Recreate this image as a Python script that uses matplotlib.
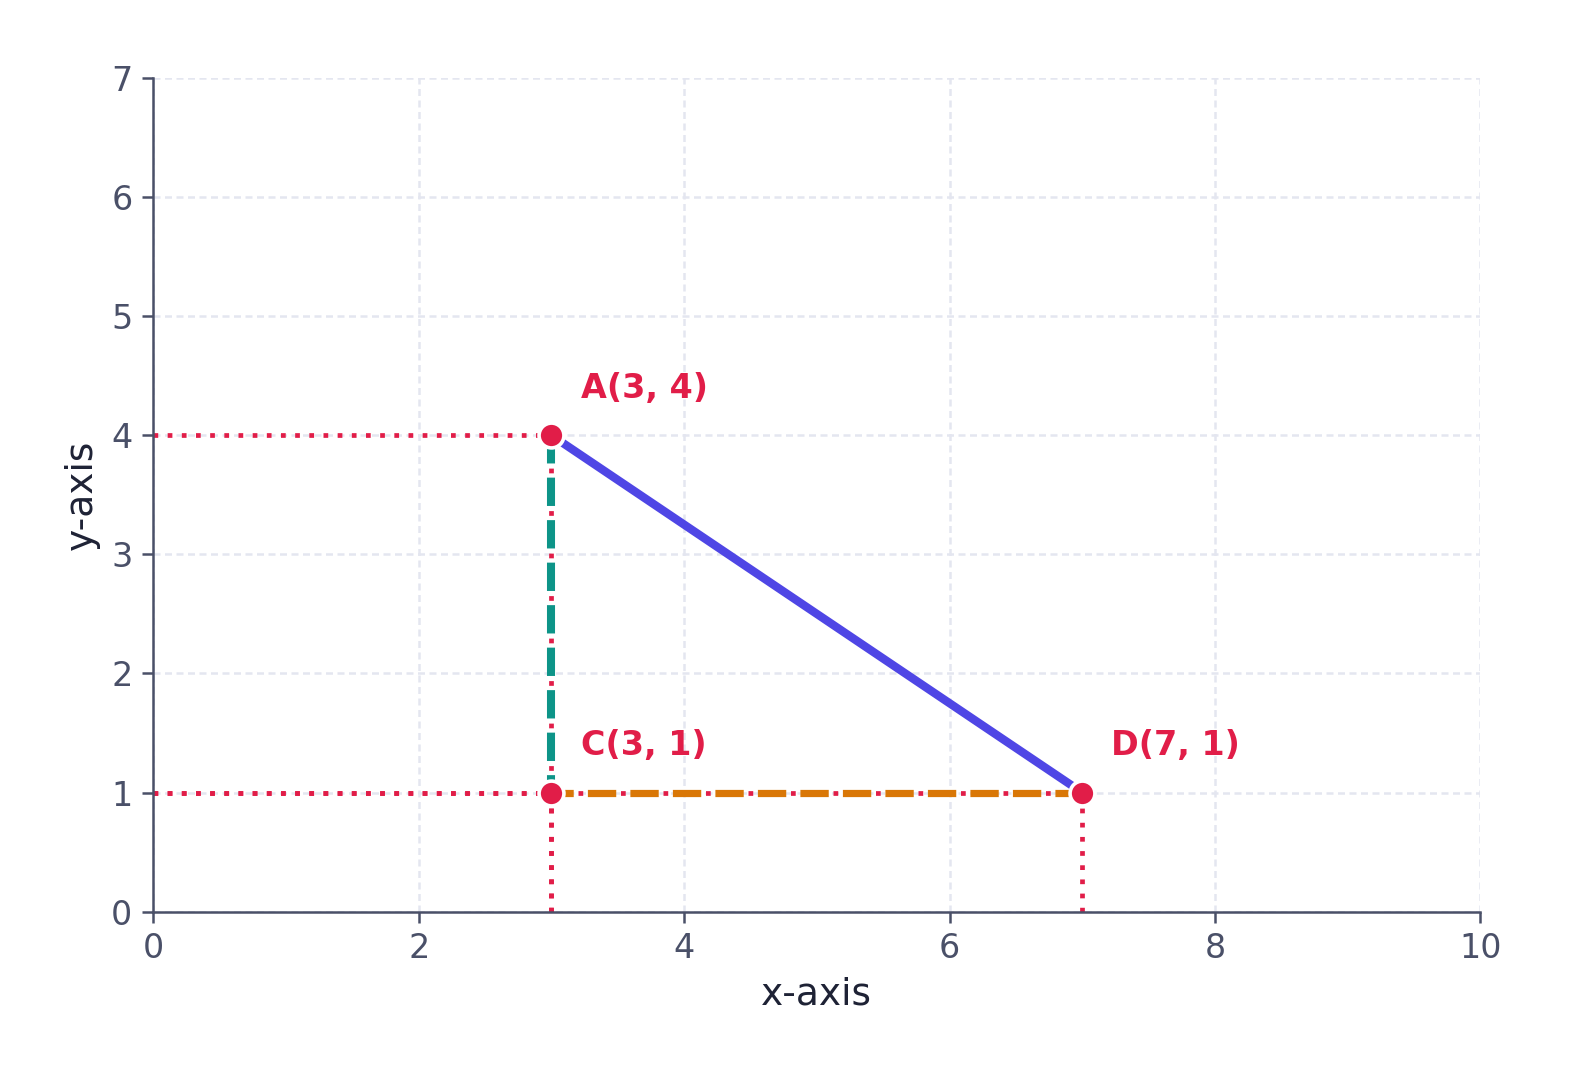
import matplotlib.pyplot as plt

# points
labels = ["A", "C", "D"]
xs = [3, 3, 7]
ys = [4, 1, 1]

red = "#e11d48"
blue = "#4f46e5"
teal = "#0d9488"
orange = "#d97706"
axis_col = "#4a5068"

fig, ax = plt.subplots(figsize=(7.9, 5.42), dpi=200)
fig.subplots_adjust(left=0.097, right=0.937, top=0.928, bottom=0.159)

# projection lines to axes
for x, y in zip(xs, ys):
    ax.plot([0, x], [y, y], color=red, lw=1.7, ls=(0, (1, 2)), zorder=2)
    ax.plot([x, x], [0, y], color=red, lw=1.7, ls=(0, (1, 2)), zorder=2)

# triangle sides (dash phase chosen so the red dots show in the gaps)
ax.plot([xs[0], xs[2]], [ys[0], ys[2]], color=blue, lw=3, zorder=3, solid_capstyle="butt")
ax.plot([xs[1], xs[0]], [ys[1], ys[0]], color=teal, lw=2.9, ls=(1.3, (3.517, 1.759)), zorder=3)
ax.plot([xs[1], xs[2]], [ys[1], ys[2]], color=orange, lw=2.6, ls=(0.846, (3.923, 1.962)), zorder=3)

ax.scatter(xs, ys, s=80, color=red, edgecolor="white", linewidth=1.3, zorder=5)
for lab, x, y in zip(labels, xs, ys):
    ax.annotate(f"{lab}({x}, {y})", (x, y), xytext=(10.5, 11), textcoords="offset points",
                color=red, fontsize=12, fontweight="bold", ha="left", va="bottom")

ax.set_xlim(0, 10)
ax.set_ylim(0, 7)
ax.set_xticks(range(0, 11, 2))
ax.set_yticks(range(0, 8))
ax.grid(True, color="#e4e6f0", ls=(0, (2.8, 1.8)), lw=0.9)
ax.set_axisbelow(True)
for s in ["top", "right"]:
    ax.spines[s].set_visible(False)
for s in ["left", "bottom"]:
    ax.spines[s].set_color(axis_col)
    ax.spines[s].set_linewidth(0.9)
ax.tick_params(colors=axis_col, labelsize=12, length=4, width=0.9)
ax.set_xlabel("x-axis", fontsize=13.5, color="#1e2235")
ax.set_ylabel("y-axis", fontsize=13.5, color="#1e2235")

plt.savefig("out.png", dpi=200)
